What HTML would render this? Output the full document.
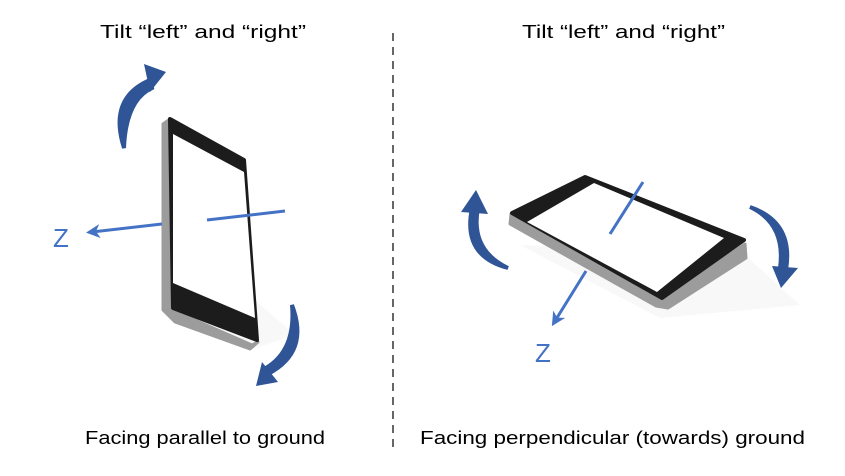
<!DOCTYPE html>
<html><head><meta charset="utf-8"><style>
html,body{margin:0;padding:0;background:#fff;}
svg{display:block;}
text{font-family:"Liberation Sans",sans-serif;fill:#000;}
</style></head><body>
<svg width="845" height="476" viewBox="0 0 845 476" xmlns="http://www.w3.org/2000/svg">
<defs>
<marker id="ah" markerWidth="14" markerHeight="14" refX="8" refY="7" orient="auto" markerUnits="userSpaceOnUse"><path d="M0,0 L14,7 L0,14 L4,7 Z" fill="#4472C4"/></marker>
</defs>
<text x="100" y="38" font-size="18" textLength="206" lengthAdjust="spacingAndGlyphs">Tilt “left” and “right”</text>
<text x="522" y="38" font-size="18" textLength="203" lengthAdjust="spacingAndGlyphs">Tilt “left” and “right”</text>
<text x="85" y="444" font-size="18" textLength="240" lengthAdjust="spacingAndGlyphs">Facing parallel to ground</text>
<text x="420" y="444" font-size="18" textLength="385" lengthAdjust="spacingAndGlyphs">Facing perpendicular (towards) ground</text>
<line x1="393" y1="33" x2="393" y2="450" stroke="#000" stroke-width="1.2" stroke-dasharray="8,6"/>

<!-- left phone shadow -->
<polygon points="170,300 250,350 295,335 215,265" fill="#f8f8f8"/>
<!-- left phone silver side -->
<polygon points="163,124 170,119 172,310 252,345 258,342 250,349 175,322 163,310" fill="#9c9c9c" stroke="#9c9c9c" stroke-width="3" stroke-linejoin="round"/>
<!-- left phone face -->
<polygon points="170,119 244,160 257,340 173,308" fill="#1c1c1c" stroke="#1c1c1c" stroke-width="4" stroke-linejoin="round"/>
<polygon points="173,134 244,172 255,318 173,283" fill="#fff"/>
<line x1="207" y1="220" x2="285" y2="211" stroke="#4472C4" stroke-width="3"/>
<line x1="162" y1="224" x2="92" y2="232" stroke="#4472C4" stroke-width="3" marker-end="url(#ah)"/>
<text x="53" y="247" font-size="26" style="fill:#4472C4">Z</text>
<!-- left arrows -->
<path d="M124,148 Q108,98 150,80 L152,88 Q126,100 124,148 Z" fill="#2F5597" stroke="#2F5597" stroke-width="4"/>
<polygon points="144,64 166,72 150,92" fill="#2F5597"/>
<path d="M292,305 Q310,352 268,374 L266,368 Q296,350 292,305 Z" fill="#2F5597" stroke="#2F5597" stroke-width="4"/>
<polygon points="256,386 262,362 278,382" fill="#2F5597"/>

<!-- right phone shadow -->
<polygon points="520,245 660,318 800,305 745,255" fill="#f8f8f8"/>
<!-- right phone silver side -->
<polygon points="511,214 510,224 656,306 668,308 746,258 745,244 662,300" fill="#9c9c9c" stroke="#9c9c9c" stroke-width="3" stroke-linejoin="round"/>
<!-- right phone face -->
<polygon points="512,213 585,177 744,240 662,298" fill="#1c1c1c" stroke="#1c1c1c" stroke-width="4" stroke-linejoin="round"/>
<polygon points="527,222 594,183 724,238 657,292" fill="#fff"/>
<line x1="643" y1="182" x2="610" y2="234" stroke="#4472C4" stroke-width="3"/>
<line x1="586" y1="271" x2="555" y2="321" stroke="#4472C4" stroke-width="3" marker-end="url(#ah)"/>
<text x="535" y="362" font-size="26" style="fill:#4472C4">Z</text>
<!-- right arrows -->
<path d="M508,268 Q462,256 472,208 L478,208 Q470,250 508,268 Z" fill="#2F5597" stroke="#2F5597" stroke-width="4"/>
<polygon points="461,212 476,190 488,214" fill="#2F5597"/>
<path d="M750,207 Q794,222 786,270 L780,268 Q786,224 750,207 Z" fill="#2F5597" stroke="#2F5597" stroke-width="4"/>
<polygon points="772,266 798,268 781,288" fill="#2F5597"/>
</svg>
</body></html>
